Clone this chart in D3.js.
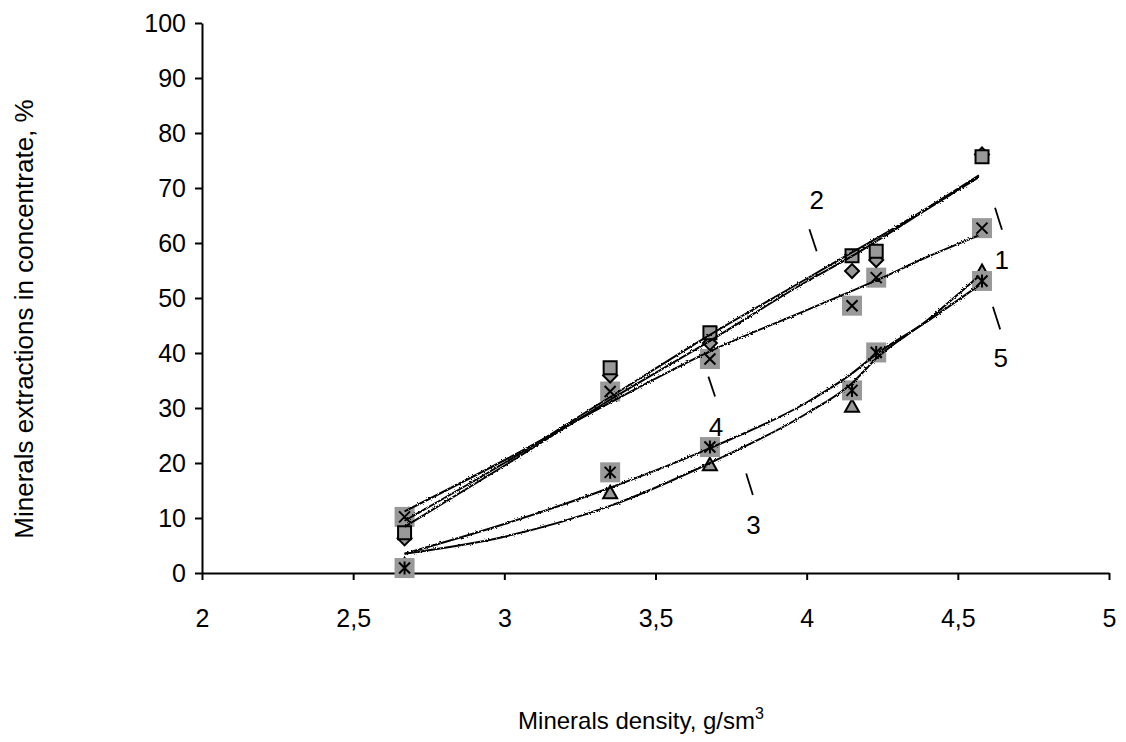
<!DOCTYPE html>
<html>
<head>
<meta charset="utf-8">
<script src="https://cdn.jsdelivr.net/npm/d3@7"></script>
<style>
  body { margin: 0; background: #fff; }
  svg { display: block; font-family: "Liberation Sans", Arial, sans-serif; }
</style>
</head>
<body>
<script>
// measured densities (x) for all series
const densities = [2.67, 3.35, 3.68, 4.15, 4.23, 4.58];

// extraction values, %
const diamondVals = [6.3, 35.9, 41.8, 54.9, 56.9, 76.1];
const squareVals = [7.3, 37.3, 43.7, 57.7, 58.5, 75.7];
const triangleVals = [1.5, 14.6, 19.7, 30.3, 40.0, 54.8];
const crossVals = [10.2, 33.0, 38.9, 48.6, 53.7, 62.7];
const starVals = [0.9, 18.3, 22.9, 33.2, 40.1, 53.1];

// trend curves
const trendX = [2.67, 3.0, 3.35, 3.68, 4.0, 4.15, 4.23, 4.4, 4.57];
const trend1 = [11.2, 20.5, 31.0, 40.3, 47.8, 51.3, 53.2, 57.5, 61.4];
const trend2 = [9.5, 20.0, 32.0, 43.3, 53.5, 58.3, 60.8, 66.4, 72.3];
const trend3 = [3.5, 6.6, 12.2, 20.0, 29.0, 34.5, 39.0, 46.0, 54.0];
const trend4 = [8.4, 19.5, 31.5, 42.2, 53.0, 57.6, 60.3, 66.2, 72.0];
const trend5 = [3.5, 8.9, 15.5, 22.7, 31.0, 36.3, 39.8, 45.8, 52.3];

const xTicks = [2, 2.5, 3, 3.5, 4, 4.5, 5];
const yTicks = [0, 10, 20, 30, 40, 50, 60, 70, 80, 90, 100];

// curve numbers: [label, textX, textY, markX1, markY1, markX2, markY2]
const curveLabels = [
  ["1", 4.645, 56.9, 4.623, 66.4, 4.646, 62.4],
  ["2", 4.033, 67.8, 4.009, 62.5, 4.033, 58.5],
  ["3", 3.824, 8.7, 3.800, 18.1, 3.822, 14.2],
  ["4", 3.700, 26.6, 3.675, 35.7, 3.697, 32.1],
  ["5", 4.642, 39.1, 4.616, 48.4, 4.640, 44.3]
];

const width = 1126;
const height = 742;
const plotLeft = 202, plotRight = 1109, plotTop = 23, plotBottom = 573;
const gray = "#999999";

const svg = d3.select("body").append("svg")
  .attr("width", width)
  .attr("height", height);

// slight roughness for the hand-drawn trend lines
const filt = svg.append("defs").append("filter")
  .attr("id", "rough")
  .attr("x", "-5%").attr("y", "-5%")
  .attr("width", "110%").attr("height", "110%");
filt.append("feTurbulence")
  .attr("type", "fractalNoise")
  .attr("baseFrequency", 0.7)
  .attr("numOctaves", 1)
  .attr("seed", 3)
  .attr("result", "n");
filt.append("feDisplacementMap")
  .attr("in", "SourceGraphic")
  .attr("in2", "n")
  .attr("scale", 3);

const xScale = d3.scaleLinear().domain([2, 5]).range([plotLeft, plotRight]);
const yScale = d3.scaleLinear().domain([0, 100]).range([plotBottom, plotTop]);

const fmt = (d) => String(d).replace(".", ",");

// X axis
const xAxis = d3.axisBottom(xScale).tickValues(xTicks).tickFormat(fmt)
  .tickSize(7).tickSizeOuter(0);
const gx = svg.append("g")
  .attr("transform", `translate(0, ${plotBottom})`)
  .call(xAxis);
gx.select(".domain").attr("stroke", "#000").attr("stroke-width", 2);
gx.selectAll(".tick line").attr("stroke", "#000").attr("stroke-width", 2);
gx.selectAll(".tick text")
  .attr("fill", "#000")
  .attr("y", 10)
  .attr("dy", "1.75em")
  .style("font-size", "25px");

// Y axis
const yAxis = d3.axisLeft(yScale).tickValues(yTicks).tickFormat(fmt)
  .tickSize(7).tickSizeOuter(0);
const gy = svg.append("g")
  .attr("transform", `translate(${plotLeft}, 0)`)
  .call(yAxis);
gy.select(".domain").attr("stroke", "#000").attr("stroke-width", 2);
gy.selectAll(".tick line").attr("stroke", "#000").attr("stroke-width", 2);
gy.selectAll(".tick text")
  .attr("fill", "#000")
  .attr("x", -16)
  .style("font-size", "25px");

// Markers
const pts = (vals) => densities.map((d, i) => [d, vals[i]]);
const place = (d) => `translate(${xScale(d[0])}, ${yScale(d[1])})`;

function shapeMarks(vals, pathStr) {
  svg.append("g").selectAll("path")
    .data(pts(vals))
    .enter()
    .append("path")
    .attr("transform", place)
    .attr("d", pathStr)
    .attr("fill", gray)
    .attr("stroke", "#000")
    .attr("stroke-width", 2)
    .attr("stroke-linejoin", "miter");
}

function boxMarks(vals, star) {
  const g = svg.append("g").selectAll("g")
    .data(pts(vals))
    .enter()
    .append("g")
    .attr("transform", place);
  g.append("rect")
    .attr("x", -10).attr("y", -10)
    .attr("width", 20).attr("height", 20)
    .attr("fill", gray);
  const r = 5.5;
  let path = `M${-r},${-r}L${r},${r}M${-r},${r}L${r},${-r}`;
  if (star) path += `M0,${-r - 1}L0,${r + 1}`;
  g.append("path")
    .attr("d", path)
    .attr("stroke", "#000")
    .attr("stroke-width", 2)
    .attr("fill", "none");
}

shapeMarks(triangleVals, "M0,-7L7,5.5L-7,5.5Z");
boxMarks(starVals, true);
boxMarks(crossVals, false);
shapeMarks(diamondVals, "M0,-7L7,0L0,7L-7,0Z");
shapeMarks(squareVals, "M-6.5,-6.5H6.5V6.5H-6.5Z");

// Trend lines
const line = d3.line()
  .x((d) => xScale(d[0]))
  .y((d) => yScale(d[1]))
  .curve(d3.curveMonotoneX);

[trend1, trend2, trend3, trend4, trend5].forEach((t) => {
  svg.append("path")
    .datum(trendX.map((x, i) => [x, t[i]]))
    .attr("d", line)
    .attr("fill", "none")
    .attr("stroke", "#000")
    .attr("stroke-width", 2)
    .attr("filter", "url(#rough)");
});

// Curve numbers
const lab = svg.append("g").selectAll("g")
  .data(curveLabels)
  .enter()
  .append("g");
lab.append("line")
  .attr("x1", (d) => xScale(d[3])).attr("y1", (d) => yScale(d[4]))
  .attr("x2", (d) => xScale(d[5])).attr("y2", (d) => yScale(d[6]))
  .attr("stroke", "#000")
  .attr("stroke-width", 1.8);
lab.append("text")
  .attr("x", (d) => xScale(d[1]))
  .attr("y", (d) => yScale(d[2]))
  .attr("text-anchor", "middle")
  .attr("dominant-baseline", "central")
  .style("font-size", "26px")
  .text((d) => d[0]);

// Axis titles
svg.append("text")
  .attr("transform", `translate(33, 319) rotate(-90)`)
  .attr("text-anchor", "middle")
  .style("font-size", "26px")
  .text("Minerals extractions in concentrate, %");

const xt = svg.append("text")
  .attr("x", 641)
  .attr("y", 729)
  .attr("text-anchor", "middle")
  .style("font-size", "24px");
xt.append("tspan").text("Minerals density, g/sm");
xt.append("tspan").attr("dy", -10).style("font-size", "16px").text("3");
</script>
</body>
</html>
